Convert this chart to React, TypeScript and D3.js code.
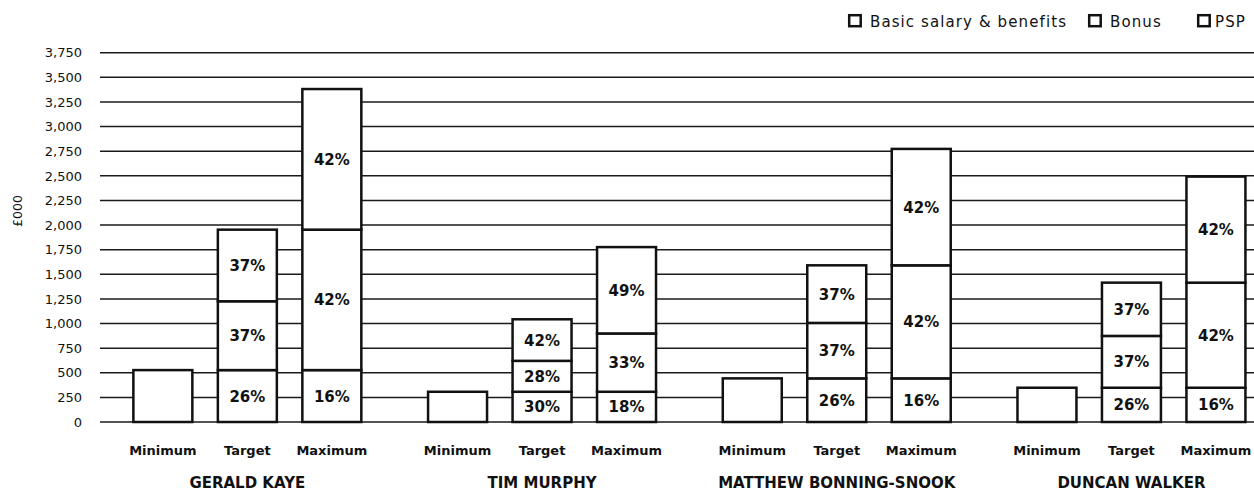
import React from "react";
import * as d3 from "d3";

const people = ["GERALD KAYE", "TIM MURPHY", "MATTHEW BONNING-SNOOK", "DUNCAN WALKER"];
const scenarios = ["Minimum", "Target", "Maximum"];
const seriesNames = ["Basic salary & benefits", "Bonus", "PSP"];

// values in £000, per person: [Minimum, Target, Maximum]
const basic = [
  [527, 527, 527],
  [307, 307, 307],
  [443, 443, 443],
  [348, 348, 348],
];
const bonus = [
  [0, 699, 1426],
  [0, 314, 592],
  [0, 563, 1148],
  [0, 526, 1067],
];
const psp = [
  [0, 727, 1428],
  [0, 422, 877],
  [0, 585, 1182],
  [0, 541, 1077],
];
const pctBasic = [
  ["", "26%", "16%"],
  ["", "30%", "18%"],
  ["", "26%", "16%"],
  ["", "26%", "16%"],
];
const pctBonus = [
  ["", "37%", "42%"],
  ["", "28%", "33%"],
  ["", "37%", "42%"],
  ["", "37%", "42%"],
];
const pctPsp = [
  ["", "37%", "42%"],
  ["", "42%", "49%"],
  ["", "37%", "42%"],
  ["", "37%", "42%"],
];
const yTicks = d3.range(0, 3751, 250);

const FONT = "'DejaVu Sans', sans-serif";

export default function App() {
  const W = 1254;
  const H = 493;
  const left = 100;
  const y = d3.scaleLinear().domain([0, 3750]).range([422, 52.7]);
  const x0 = d3.scaleBand().domain(people).range([left, left + 4 * 294.7]);
  const x1 = d3
    .scaleBand()
    .domain(scenarios)
    .range([0, x0.bandwidth()])
    .paddingInner(0.302)
    .paddingOuter(0.395);

  const series = [basic, bonus, psp];
  const pcts = [pctBasic, pctBonus, pctPsp];

  const fmt = d3.format(",");

  const legendItems = [
    { name: seriesNames[0], x: 848, tx: 870 },
    { name: seriesNames[1], x: 1088, tx: 1110 },
    { name: seriesNames[2], x: 1197, tx: 1215 },
  ];

  return (
    <svg
      width={W}
      height={H}
      style={{ position: "absolute", left: 0, top: 0, background: "#fff" }}
      fontFamily={FONT}
    >
      {/* legend */}
      {legendItems.map((l) => (
        <g key={l.name}>
          <rect x={l.x + 1.2} y={15.2} width={11.5} height={11} fill="#fff" stroke="#111" strokeWidth={2.5} />
          <text x={l.tx} y={26.5} fontSize={15} letterSpacing={1.1} fill="#111">
            {l.name}
          </text>
        </g>
      ))}

      {/* y axis title */}
      <text
        transform={`translate(22,211) rotate(-90)`}
        textAnchor="middle"
        fontSize={12.5}
        fill="#111"
      >
        £000
      </text>

      {/* gridlines + tick labels */}
      {yTicks.map((t) => (
        <g key={t}>
          <line x1={left} x2={W} y1={y(t)} y2={y(t)} stroke="#1a1a1a" strokeWidth={1.5} />
          <text x={82} y={y(t) + 4.7} textAnchor="end" fontSize={13} fill="#111">
            {fmt(t)}
          </text>
        </g>
      ))}

      {/* bars */}
      {people.map((p, pi) => (
        <g key={p} transform={`translate(${x0(p)},0)`}>
          {scenarios.map((s, si) => {
            let acc = 0;
            const bx = x1(s)!;
            const bw = x1.bandwidth();
            return (
              <g key={s}>
                {series.map((ser, k) => {
                  const v = ser[pi][si];
                  if (v <= 0) return null;
                  const y0 = y(acc);
                  const y1v = y(acc + v);
                  acc += v;
                  const label = pcts[k][pi][si];
                  return (
                    <g key={k}>
                      <rect
                        x={bx}
                        y={y1v}
                        width={bw}
                        height={y0 - y1v}
                        fill="#fff"
                        stroke="#111"
                        strokeWidth={2.5}
                      />
                      {label && (
                        <text
                          x={bx + bw / 2}
                          y={(y0 + y1v) / 2 + 5.5}
                          textAnchor="middle"
                          fontSize={15}
                          fontWeight="bold"
                          fill="#111"
                        >
                          {label}
                        </text>
                      )}
                    </g>
                  );
                })}
                <text
                  x={bx + bw / 2}
                  y={455.3}
                  textAnchor="middle"
                  fontSize={13}
                  fontWeight="bold"
                  fill="#111"
                >
                  {s}
                </text>
              </g>
            );
          })}
          <text
            x={x0.bandwidth() / 2}
            y={488}
            textAnchor="middle"
            fontSize={15}
            fontWeight="bold"
            fill="#111"
          >
            {p}
          </text>
        </g>
      ))}
    </svg>
  );
}
